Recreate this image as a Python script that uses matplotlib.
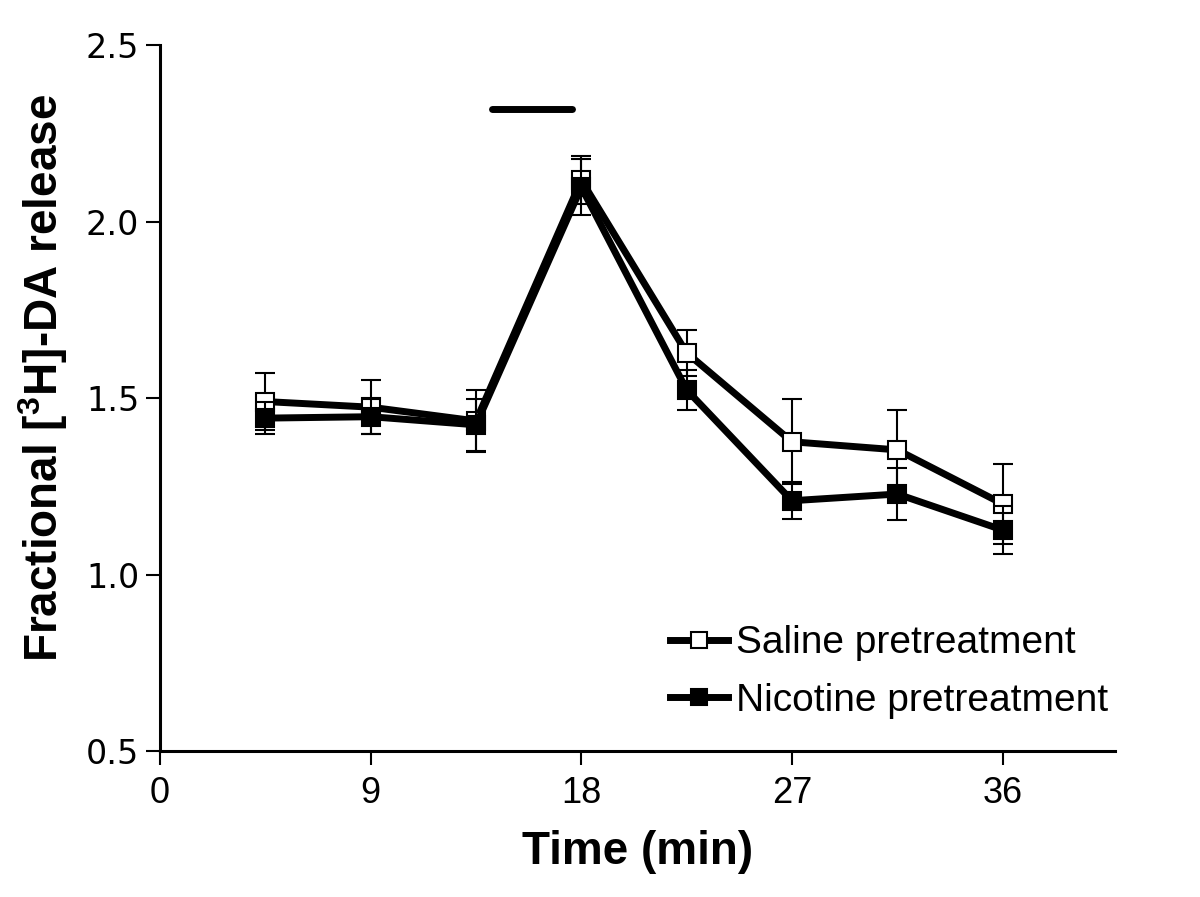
import matplotlib
matplotlib.use("Agg")
import matplotlib.pyplot as plt

# data
time_min = [4.5, 9, 13.5, 18, 22.5, 27, 31.5, 36]
saline = [1.49, 1.474, 1.435, 2.117, 1.628, 1.376, 1.353, 1.20]
saline_err = [0.08, 0.077, 0.088, 0.068, 0.066, 0.121, 0.113, 0.113]
nicotine = [1.443, 1.447, 1.424, 2.097, 1.523, 1.209, 1.228, 1.126]
nicotine_err = [0.045, 0.05, 0.073, 0.079, 0.057, 0.053, 0.075, 0.068]
stim_start, stim_end, stim_level = 14.2, 17.6, 2.318

plt.rcParams['font.family'] = ['Liberation Sans', 'DejaVu Sans']
plt.rcParams['mathtext.fontset'] = 'custom'
plt.rcParams['mathtext.rm'] = 'Liberation Sans'
plt.rcParams['mathtext.bf'] = 'Liberation Sans:bold'

fig = plt.figure(figsize=(12, 8.97), dpi=100)
ax = fig.add_axes([160 / 1200, 1 - 751 / 897, 955 / 1200, 706 / 897])

err_kw = dict(fmt='none', ecolor='black', elinewidth=1.5, capsize=7.5, capthick=1.5)
ax.errorbar(time_min, saline, yerr=saline_err, zorder=2, **err_kw)
ax.plot(time_min, saline, color='black', lw=5, marker='s', ms=13,
        mfc='white', mec='black', mew=1.5, zorder=3, label='Saline pretreatment')
ax.errorbar(time_min, nicotine, yerr=nicotine_err, zorder=4, **err_kw)
ax.plot(time_min, nicotine, color='black', lw=5, marker='s', ms=13,
        mfc='black', mec='black', mew=1.5, zorder=5, label='Nicotine pretreatment')

# stimulation bar
ax.plot([stim_start, stim_end], [stim_level, stim_level], color='black', lw=5,
        solid_capstyle='round', clip_on=False)

ax.set_xlim(0, 40.8)
ax.set_ylim(0.5, 2.5)
ax.set_xticks([0, 9, 18, 27, 36])
ax.set_yticks([0.5, 1.0, 1.5, 2.0, 2.5])

for s in ['top', 'right']:
    ax.spines[s].set_visible(False)
for s in ['left', 'bottom']:
    ax.spines[s].set_linewidth(2.2)
ax.tick_params(axis='both', direction='out', length=10, width=1.5)
ax.tick_params(axis='y', pad=5, labelsize=24)
ax.tick_params(axis='x', pad=8, labelsize=26)
ax.set_yticklabels(['0.5', '1.0', '1.5', '2.0', '2.5'])
for lab in ax.get_yticklabels():
    lab.set_fontfamily('DejaVu Sans')
    lab.set_fontsize(24)

ax.set_xlabel('Time (min)', fontweight='bold', fontsize=33, labelpad=14)
ax.set_ylabel(r'Fractional [$^{\mathbf{3}}$H]-DA release', fontweight='bold', fontsize=33)
ax.yaxis.set_label_coords(-0.094, 0.528)

ax.legend(loc='center left', bbox_to_anchor=(670 / 1200, 1 - 672 / 897),
          bbox_transform=fig.transFigure, frameon=False, fontsize=28,
          handlelength=1.5, handletextpad=0.2, labelspacing=0.55,
          borderpad=0, borderaxespad=0, markerscale=0.85)

fig.savefig('out.png', dpi=100)
